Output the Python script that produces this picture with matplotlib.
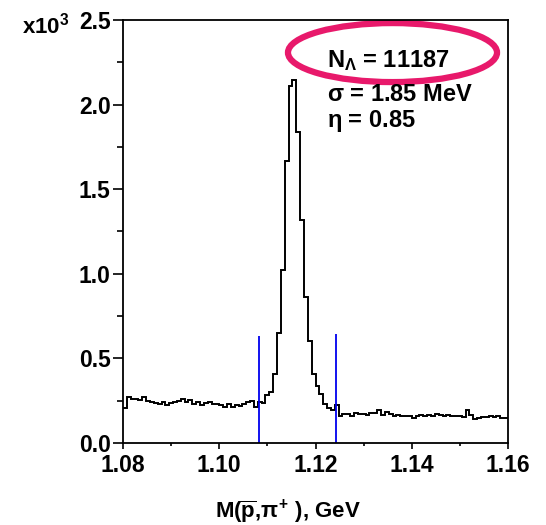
import numpy as np
import matplotlib
matplotlib.use("Agg")
import matplotlib.pyplot as plt
from matplotlib.patches import Ellipse
from matplotlib.ticker import MultipleLocator

plt.rcParams["font.family"] = ["Liberation Sans", "DejaVu Sans"]
plt.rcParams["font.weight"] = "bold"
plt.rcParams["mathtext.fontset"] = "custom"
plt.rcParams["mathtext.rm"] = "Liberation Sans:bold"
plt.rcParams["mathtext.it"] = "Liberation Sans:bold"
plt.rcParams["mathtext.bf"] = "Liberation Sans:bold"

# invariant mass histogram, 0.8 MeV bins from 1.08 to 1.16 GeV (counts in 10^3)
bin_lo = 1.08
bin_w = 0.0008
counts = [
    0.205, 0.270, 0.262, 0.262, 0.255, 0.272, 0.250, 0.240, 0.235, 0.232,
    0.245, 0.222, 0.238, 0.240, 0.250, 0.262, 0.240, 0.252, 0.228, 0.242,
    0.222, 0.235, 0.240, 0.232, 0.228, 0.225, 0.215, 0.228, 0.210, 0.222,
    0.218, 0.230, 0.240, 0.250, 0.210, 0.245, 0.235, 0.284, 0.303, 0.408,
    0.652, 1.022, 1.668, 2.110, 2.145, 1.836, 1.320, 0.865, 0.600, 0.410,
    0.335, 0.292, 0.228, 0.207, 0.193, 0.225, 0.158, 0.172, 0.170, 0.160,
    0.180, 0.170, 0.172, 0.165, 0.175, 0.178, 0.195, 0.168, 0.186, 0.170,
    0.158, 0.165, 0.160, 0.158, 0.162, 0.150, 0.160, 0.165, 0.158, 0.168,
    0.158, 0.172, 0.165, 0.160, 0.168, 0.160, 0.158, 0.160, 0.155, 0.195,
    0.168, 0.140, 0.145, 0.152, 0.155, 0.160, 0.152, 0.158, 0.145, 0.150,
]
edges = bin_lo + bin_w * np.arange(len(counts) + 1)

# signal window cuts
cut_x = [1.1083, 1.1242]
cut_h = [0.632, 0.644]

fit_text = [r"N$_{\Lambda}$ = 11187", r"$\sigma$ = 1.85 MeV", r"$\eta$ = 0.85"]

fig = plt.figure(figsize=(5.46, 5.25), dpi=100)
ax = fig.add_axes([0.2253, 0.1562, 0.7051, 0.8057])

ax.stairs(counts, edges, baseline=None, color="black", lw=1.4)
ax.vlines(cut_x, 0, cut_h, color="#0000ee", lw=1.3)

ax.set_xlim(1.08, 1.16)
ax.set_ylim(0, 2.5)
ax.xaxis.set_major_locator(MultipleLocator(0.02))
ax.xaxis.set_minor_locator(MultipleLocator(0.01))
ax.yaxis.set_major_locator(MultipleLocator(0.5))
ax.yaxis.set_minor_locator(MultipleLocator(0.25))
ax.xaxis.set_major_formatter(matplotlib.ticker.FormatStrFormatter("%.2f"))
ax.yaxis.set_major_formatter(matplotlib.ticker.FormatStrFormatter("%.1f"))
ax.tick_params(axis="y", which="major", direction="out", length=7, width=1.2,
               labelsize=16.5, pad=2)
ax.tick_params(axis="y", which="minor", direction="out", length=4.5, width=1.2)
ax.tick_params(axis="x", which="major", direction="out", length=4, width=1.2,
               labelsize=16.5, pad=4)
ax.tick_params(axis="x", which="minor", direction="out", length=2.5, width=1.2)
for lab in ax.get_xticklabels() + ax.get_yticklabels():
    lab.set_fontweight("bold")
for sp in ax.spines.values():
    sp.set_linewidth(1.3)

fig.text(0.04, 0.937, r"x10$^{3}$", fontsize=16, fontweight="bold",
         va="baseline")
fig.text(0.528, 0.014, r"M($\overline{\mathrm{p}}$,$\pi^{+}$ ), GeV", fontsize=16,
         fontweight="bold", ha="center", va="baseline")

ys = [0.905, 0.825, 0.762]
for t, yy in zip(fit_text, ys):
    ax.text(0.53, yy, t, transform=ax.transAxes, fontsize=17, fontweight="bold",
            va="center")

ax.add_patch(Ellipse((0.700, 0.923), 0.543, 0.1395, transform=ax.transAxes,
                     fill=False, edgecolor="#e8196b", lw=4.5, clip_on=False))

fig.savefig("out.png", dpi=100)
